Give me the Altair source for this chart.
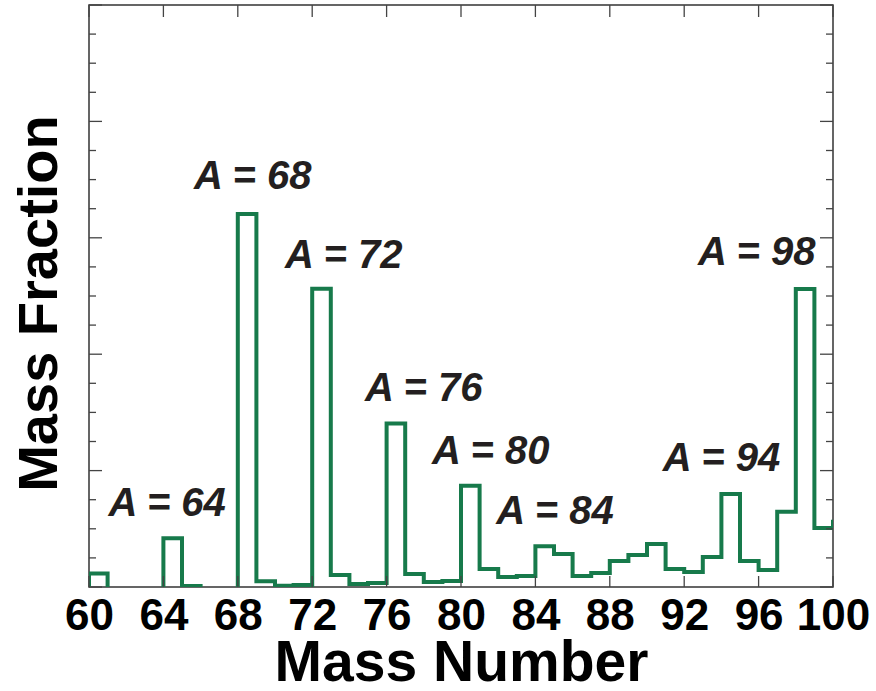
import altair as alt
import pandas as pd

# Mass number bins (width 1) and mass fraction per bin; None = bin not populated
mass_number = list(range(60, 101))
mass_fraction = [
    0.0117, None, None, None, 0.0418, 0.0008, None, None,   # 60-67
    0.3204, 0.0050, 0.0010, 0.0018,                         # 68-71
    0.2563, 0.0103, 0.0026, 0.0035,                         # 72-75
    0.1405, 0.0112, 0.0043, 0.0052,                         # 76-79
    0.0870, 0.0154, 0.0086, 0.0094,                         # 80-83
    0.0350, 0.0283, 0.0094, 0.0120,                         # 84-87
    0.0223, 0.0274, 0.0370, 0.0154,                         # 88-91
    0.0129, 0.0257, 0.0799, 0.0223,                         # 92-95
    0.0146, 0.0647, 0.2560, 0.0507,                         # 96-99
    0.0560,                                                 # 100
]

# Peak annotations: text and anchor in data coordinates
peak_labels = ["A = 64", "A = 68", "A = 72", "A = 76", "A = 80", "A = 84", "A = 94", "A = 98"]
peak_label_x = [64.2, 68.8, 73.7, 78.0, 81.6, 85.05, 94.0, 95.9]
peak_label_y = [0.061, 0.342, 0.274, 0.160, 0.106, 0.054, 0.100, 0.277]

x_ticks = list(range(60, 101, 4))
y_major = [0.0, 0.1, 0.2, 0.3, 0.4, 0.5]
y_minor = [round(i * 0.025, 3) for i in range(21) if i % 4 != 0]

W, H = 744, 582
GREEN = "#177a4b"
INK = "#231f20"
AXIS = "#444444"
FONT = "Liberation Sans, Arial"

# Turn the binned values into a step outline, one segment per populated run
rows, seg, order, run_end = [], 0, 0, None
for a, v in zip(mass_number, mass_fraction):
    if v is None:
        if run_end is not None:
            rows.append({"A": run_end, "f": 0.0, "seg": seg, "i": order}); order += 1
            seg += 1
            run_end = None
        continue
    if run_end is None:
        rows.append({"A": a, "f": 0.0, "seg": seg, "i": order}); order += 1
    rows.append({"A": a, "f": v, "seg": seg, "i": order}); order += 1
    rows.append({"A": a + 1, "f": v, "seg": seg, "i": order}); order += 1
    run_end = a + 1
if run_end is not None:
    rows.append({"A": run_end, "f": 0.0, "seg": seg, "i": order})
steps = pd.DataFrame(rows)

xscale = alt.Scale(domain=[60, 100], nice=False, zero=False)
yscale = alt.Scale(domain=[0, 0.5], nice=False, zero=False)

line = alt.Chart(steps).mark_line(
    color=GREEN, strokeWidth=4, strokeJoin="miter", clip=True
).encode(
    x=alt.X("A:Q", scale=xscale, axis=alt.Axis(
        values=x_ticks, title="Mass Number", ticks=False, domain=False, grid=False,
        labelFont=FONT, labelFontWeight="bold", labelFontSize=44,
        labelColor="black", labelPadding=7, labelOverlap=False, labelBound=False,
        labelFlush=False,
        titleFont=FONT, titleFontWeight="bold", titleFontSize=57,
        titleColor="black", titleY=93, titleBaseline="alphabetic",
    )),
    y=alt.Y("f:Q", scale=yscale, axis=alt.Axis(
        title="Mass Fraction", labels=False, ticks=False, domain=False, grid=False,
        titleFont=FONT, titleFontWeight="bold", titleFontSize=56,
        titleColor="black", titleAngle=-90, titleX=-33, titleY=298,
        titleAlign="center", titleBaseline="alphabetic",
    )),
    detail="seg:N",
    order="i:Q",
)

xt = pd.DataFrame({"A": x_ticks})
ymaj = pd.DataFrame({"f": y_major})
ymin = pd.DataFrame({"f": y_minor})

x_bottom = alt.Chart(xt).mark_rule(color=AXIS, strokeWidth=1.3).encode(
    x=alt.X("A:Q", scale=xscale), y=alt.value(H), y2=alt.value(H - 11))
x_top = alt.Chart(xt).mark_rule(color=AXIS, strokeWidth=1.3).encode(
    x=alt.X("A:Q", scale=xscale), y=alt.value(0), y2=alt.value(12))
y_left_major = alt.Chart(ymaj).mark_rule(color=AXIS, strokeWidth=1.3).encode(
    y=alt.Y("f:Q", scale=yscale), x=alt.value(0), x2=alt.value(13))
y_left_minor = alt.Chart(ymin).mark_rule(color=AXIS, strokeWidth=1.3).encode(
    y=alt.Y("f:Q", scale=yscale), x=alt.value(0), x2=alt.value(7))
y_right_major = alt.Chart(ymaj).mark_rule(color=AXIS, strokeWidth=1.3).encode(
    y=alt.Y("f:Q", scale=yscale), x=alt.value(W), x2=alt.value(W - 13))
y_right_minor = alt.Chart(ymin).mark_rule(color=AXIS, strokeWidth=1.3).encode(
    y=alt.Y("f:Q", scale=yscale), x=alt.value(W), x2=alt.value(W - 7))

labels = alt.Chart(pd.DataFrame({
    "label": peak_labels, "x": peak_label_x, "y": peak_label_y
})).mark_text(
    font=FONT, fontWeight="bold", fontStyle="italic", fontSize=40,
    color=INK, align="center", baseline="alphabetic"
).encode(
    x=alt.X("x:Q", scale=xscale), y=alt.Y("y:Q", scale=yscale), text="label:N")

chart = alt.layer(
    line, x_bottom, x_top, y_left_major, y_left_minor, y_right_major, y_right_minor, labels
).properties(
    width=W, height=H,
    autosize=alt.AutoSizeParams(type="none"),
    padding={"left": 89, "top": 5, "right": 43, "bottom": 104},
    background="white",
).configure_view(stroke="#333333", strokeWidth=1.5)

chart.save("out.html", embed_options={"renderer": "svg", "actions": False})
